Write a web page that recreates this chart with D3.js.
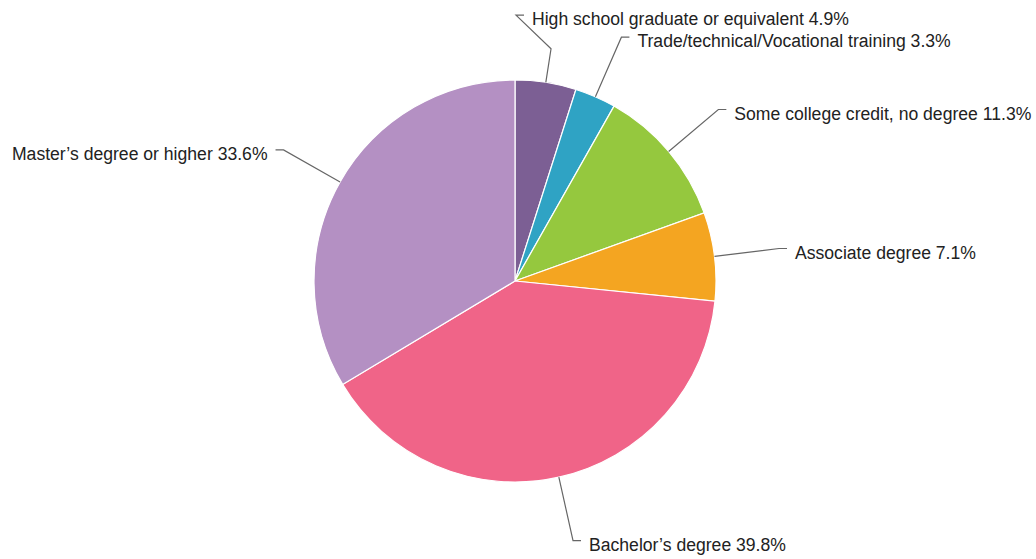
<!DOCTYPE html>
<html>
<head>
<meta charset="utf-8">
<script src="https://cdn.jsdelivr.net/npm/d3@7"></script>
<style>
  html, body { margin: 0; padding: 0; background: #fff; }
  svg { display: block; }
</style>
</head>
<body>
<svg id="chart" width="1036" height="559"></svg>
<script>
// ── Data ────────────────────────────────────────────────────
const categories = [
  'High school graduate or equivalent',
  'Trade/technical/Vocational training',
  'Some college credit, no degree',
  'Associate degree',
  'Bachelor\u2019s degree',
  'Master\u2019s degree or higher'
];
const shares = [4.9, 3.3, 11.3, 7.1, 39.8, 33.6];
const colors = ['#7c5f94', '#2fa3c4', '#95c83e', '#f4a521', '#f06488', '#b490c3'];

// ── Layout ──────────────────────────────────────────────────
const W = 1036, H = 559;
const cx = 515, cy = 281, R = 201;
const elbowR = 266;      // where the leader line turns horizontal
const tick = 8, gap = 8;
const minSpacing = 22;

const svg = d3.select('#chart');
const g = svg.append('g').attr('transform', `translate(${cx},${cy})`);

const data = categories.map((c, i) => ({ name: c, value: shares[i], color: colors[i] }));

const pie = d3.pie().value(d => d.value).sort(null);
const arc = d3.arc().innerRadius(0).outerRadius(R);
const arcs = pie(data);

g.selectAll('path.slice')
  .data(arcs)
  .join('path')
  .attr('class', 'slice')
  .attr('d', arc)
  .attr('fill', d => d.data.color)
  .attr('stroke', '#fff')
  .attr('stroke-width', 1.2);

// label anchors
const labels = arcs.map(a => {
  const mid = (a.startAngle + a.endAngle) / 2;
  const sx = Math.sin(mid), sy = -Math.cos(mid);
  return {
    d: a.data, mid,
    right: sx >= 0,
    start: [R * sx, R * sy],
    elbow: [elbowR * sx, elbowR * sy],
    y: elbowR * sy,
    moved: false
  };
});

// simple vertical collision avoidance on the right side (push upward)
const rightSide = labels.filter(l => l.right).sort((a, b) => b.y - a.y);
for (let i = 1; i < rightSide.length; i++) {
  const below = rightSide[i - 1], cur = rightSide[i];
  if (below.y - cur.y < minSpacing) {
    cur.y = below.y - minSpacing;
    cur.moved = true;
  }
}

labels.forEach(l => {
  const dir = l.right ? 1 : -1;
  let pts;
  if (l.moved) {
    // bend closer to the pie, then hook toward the centre column
    const bendR = R + 34;
    const bx = bendR * Math.sin(l.mid), by = -bendR * Math.cos(l.mid);
    const ax = 1;
    pts = [l.start, [bx, by], [ax, l.y], [ax + tick, l.y]];
    l.tx = ax + tick + gap;
  } else {
    const ex = l.elbow[0];
    pts = [l.start, [ex, l.y], [ex + dir * tick, l.y]];
    l.tx = ex + dir * (tick + gap);
  }
  g.append('polyline')
    .attr('points', pts.map(p => p.join(',')).join(' '))
    .attr('fill', 'none')
    .attr('stroke', '#666')
    .attr('stroke-width', 1.2);

  g.append('text')
    .attr('x', l.tx)
    .attr('y', l.y + 10)
    .attr('text-anchor', l.right ? 'start' : 'end')
    .attr('font-family', "'Liberation Sans', Arial, Helvetica, sans-serif")
    .attr('font-size', '17.6px')
    .attr('fill', '#222')
    .text(`${l.d.name} ${l.d.value.toFixed(1)}%`);
});
</script>
</body>
</html>
